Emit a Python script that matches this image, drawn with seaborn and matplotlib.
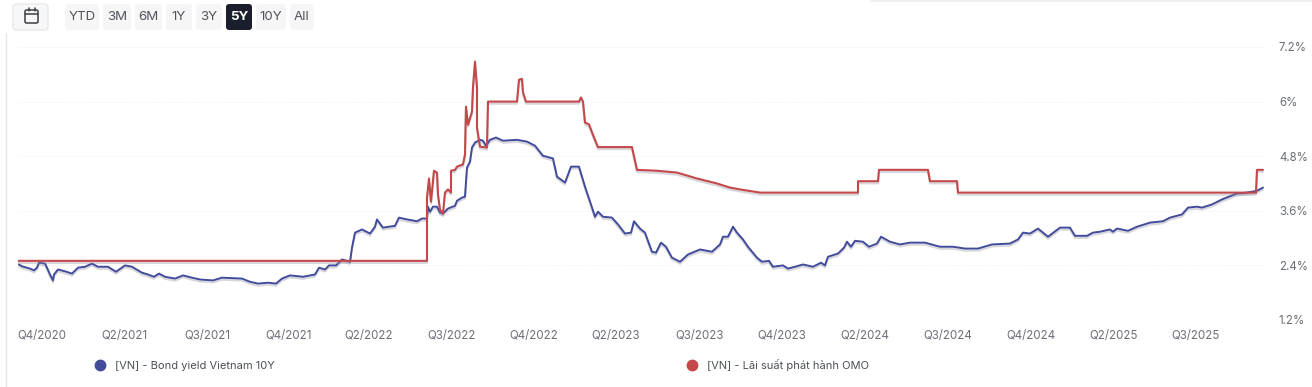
import matplotlib
matplotlib.use('Agg')
import matplotlib.pyplot as plt
import matplotlib.patheffects as pe
from matplotlib.lines import Line2D
from matplotlib.patches import FancyBboxPatch, Rectangle
import pandas as pd
import seaborn as sns

# x is the trading session number, about 250 sessions a year over the 5Y window
bond_session = [1, 4, 9, 12, 16, 19, 21, 27, 29, 32, 35, 36, 40, 47, 54, 60, 67, 74, 80, 90, 98, 107, 114, 124,
                130, 136, 141, 147, 157, 165, 174, 182, 195, 204, 224, 232, 240, 250, 258, 264, 272, 285, 297,
                301, 307, 311, 318, 324, 332, 334, 337, 344, 352, 357, 359, 365, 377, 381, 389, 399, 404, 409,
                410, 412, 415, 419, 422, 425, 430, 437, 439, 444, 447, 449, 452, 454, 457, 462, 465, 468, 472,
                478, 485, 499, 509, 517, 525, 535, 539, 547, 553, 556, 561, 567, 573, 577, 580, 585, 594, 600,
                607, 613, 616, 622, 627, 634, 638, 643, 648, 654, 662, 670, 682, 694, 702, 705, 710, 715, 719,
                725, 730, 739, 744, 751, 755, 765, 770, 777, 785, 795, 803, 807, 810, 820, 826, 829, 833, 837,
                845, 851, 859, 863, 872, 882, 892, 907, 922, 935, 947, 960, 974, 992, 1000, 1005, 1012, 1020,
                1030, 1042, 1052, 1057, 1069, 1075, 1082, 1092, 1095, 1099, 1110, 1119, 1132, 1145, 1152, 1164,
                1170, 1179, 1184, 1194, 1204, 1219, 1229, 1239, 1245]
bond_yield = [2.42, 2.38, 2.35, 2.33, 2.29, 2.35, 2.46, 2.44, 2.35, 2.20, 2.07, 2.20, 2.31, 2.27, 2.22, 2.35, 2.37,
              2.44, 2.37, 2.37, 2.26, 2.40, 2.37, 2.24, 2.20, 2.15, 2.22, 2.15, 2.11, 2.18, 2.13, 2.09, 2.07, 2.13,
              2.11, 2.04, 2.00, 2.02, 2.00, 2.11, 2.18, 2.15, 2.20, 2.35, 2.31, 2.40, 2.40, 2.53, 2.48, 2.79, 3.12,
              3.19, 3.10, 3.25, 3.41, 3.23, 3.27, 3.45, 3.41, 3.37, 3.43, 3.43, 3.69, 3.58, 3.69, 3.69, 3.56, 3.54,
              3.65, 3.71, 3.82, 3.89, 3.91, 4.55, 4.68, 4.99, 5.10, 5.16, 5.14, 5.03, 5.16, 5.21, 5.14, 5.16, 5.12,
              5.03, 4.81, 4.75, 4.35, 4.22, 4.57, 4.57, 4.57, 4.13, 3.74, 3.47, 3.58, 3.47, 3.45, 3.30, 3.10, 3.12,
              3.37, 3.21, 3.12, 2.70, 2.68, 2.90, 2.81, 2.57, 2.48, 2.64, 2.75, 2.70, 2.86, 3.03, 3.03, 3.25, 3.12,
              2.97, 2.81, 2.57, 2.48, 2.50, 2.37, 2.40, 2.33, 2.37, 2.42, 2.37, 2.46, 2.40, 2.59, 2.66, 2.79, 2.92,
              2.81, 2.94, 2.92, 2.81, 2.88, 3.03, 2.92, 2.86, 2.90, 2.90, 2.81, 2.81, 2.77, 2.77, 2.86, 2.88, 2.97,
              3.12, 3.10, 3.21, 3.03, 3.23, 3.23, 3.05, 3.05, 3.12, 3.14, 3.19, 3.14, 3.21, 3.16, 3.25, 3.34, 3.37,
              3.45, 3.52, 3.67, 3.69, 3.67, 3.74, 3.85, 3.98, 4.00, 4.04, 4.11]

omo_session = [0, 409, 409, 411, 413, 416, 419, 420, 422, 425, 427, 430, 433, 433, 437, 439, 445, 447, 448, 450, 454,
               455, 457, 459, 459, 462, 469, 470, 499, 501, 504, 505, 508, 561, 563, 565, 567, 571, 575, 580, 614,
               619, 639, 659, 679, 699, 712, 722, 742, 840, 840, 860, 861, 910, 912, 939, 940, 1238, 1239, 1245]
omo_rate = [2.5, 2.5, 3.89, 4.31, 3.80, 4.48, 4.44, 3.96, 3.63, 3.54, 4.00, 4.07, 4.00, 4.48, 4.50, 4.57, 4.62, 4.84,
            5.89, 5.49, 5.78, 6.31, 6.88, 6.31, 5.43, 5.01, 4.99, 6.0, 6.0, 6.48, 6.5, 6.2, 6.0, 6.0, 6.09, 6.0, 5.54,
            5.5, 5.27, 5.0, 5.0, 4.5, 4.48, 4.44, 4.31, 4.2, 4.11, 4.07, 4.0, 4.0, 4.25, 4.25, 4.5, 4.5, 4.25, 4.25,
            4.0, 4.0, 4.5, 4.5]

x_ticks = [24, 106, 189, 271, 351, 434, 516, 598, 682, 764, 847, 930, 1013, 1096, 1178]
x_labels = ['Q4/2020', 'Q2/2021', 'Q3/2021', 'Q4/2021', 'Q2/2022', 'Q3/2022', 'Q4/2022', 'Q2/2023',
            'Q3/2023', 'Q4/2023', 'Q2/2024', 'Q3/2024', 'Q4/2024', 'Q2/2025', 'Q3/2025']
y_ticks = [1.2, 2.4, 3.6, 4.8, 6, 7.2]
y_labels = ['1.2%', '2.4%', '3.6%', '4.8%', '6%', '7.2%']
range_buttons = ['YTD', '3M', '6M', '1Y', '3Y', '5Y', '10Y', 'All']
active_button = '5Y'
bond_name = '[VN] - Bond yield Vietnam 10Y'
omo_name = '[VN] - Lãi suất phát hành OMO'

BLUE = '#414b9b'
RED = '#c4474a'
W, H = 1312, 387

sns.set_theme(style='white')
plt.rcParams['font.family'] = ['Inter', 'DejaVu Sans']

fig = plt.figure(figsize=(W / 100, H / 100), dpi=100)

# plot area
ax = fig.add_axes([18 / W, 1 - 320 / H, 1247 / W, 273 / H])
shadow = [pe.SimpleLineShadow(offset=(0, -1.5), shadow_color='#8a8a9a', alpha=0.35), pe.Normal()]
bond = pd.DataFrame({'session': bond_session, 'value': bond_yield})
omo = pd.DataFrame({'session': omo_session, 'value': omo_rate})
sns.lineplot(data=bond, x='session', y='value', color=BLUE, lw=1.4, estimator=None, sort=False, ax=ax,
             path_effects=shadow)
sns.lineplot(data=omo, x='session', y='value', color=RED, lw=1.5, estimator=None, sort=False, ax=ax,
             path_effects=shadow)

ax.set_xlim(0, 1247)
ax.set_ylim(1.2, 7.2)
ax.set_xlabel('')
ax.set_ylabel('')
ax.set_xticks(x_ticks, x_labels)
ax.set_yticks(y_ticks, y_labels)
ax.yaxis.tick_right()
ax.tick_params(axis='x', length=0, pad=7, labelsize=8.3, labelcolor='#6b6f76')
ax.tick_params(axis='y', length=0, pad=10, labelsize=8.3, labelcolor='#6b6f76')
ax.grid(axis='y', color='#f1f1f1', lw=0.8, ls=(0, (1, 1.5)))
sns.despine(ax=ax, left=True, bottom=True, right=True, top=True)

handles = [Line2D([], [], ls='', marker='o', ms=7.5, color=BLUE), Line2D([], [], ls='', marker='o', ms=7.5, color=RED)]
leg = ax.legend(handles, [bond_name, omo_name], ncol=2, frameon=False, fontsize=8.0, columnspacing=36.5,
                handletextpad=0.35, loc='center left', bbox_to_anchor=(61 / 1247, -45 / 273),
                labelcolor='#4b4f56')

# toolbar and frame, in pixel coordinates of the figure
ui = fig.add_axes([0, 0, 1, 1], zorder=-1)
ui.set_xlim(0, W)
ui.set_ylim(H, 0)
ui.axis('off')
ui.plot([5.5, 5.5], [33, H], color='#e8e8e8', lw=1)
ui.add_patch(Rectangle((870, 0), W - 870, 1.5, color='#efefef', lw=0))

top = fig.add_axes([0, 0, 1, 1], zorder=5)
top.set_xlim(0, W)
top.set_ylim(H, 0)
top.axis('off')
top.patch.set_alpha(0)


def button(x0, x1, y0, y1, face, edge='none'):
    top.add_patch(FancyBboxPatch((x0 + 2, y0 + 2), x1 - x0 - 4, y1 - y0 - 4, boxstyle='round,pad=2,rounding_size=3',
                                 fc=face, ec=edge, lw=0.8))


button(13, 48, 4, 30, '#f7f7f7', '#e4e4e4')
top.add_patch(FancyBboxPatch((25, 10), 13, 13, boxstyle='round,pad=0,rounding_size=1.5', fc='none', ec='#3c3f46', lw=1.1))
top.plot([25, 38], [13.5, 13.5], color='#3c3f46', lw=1.1)
top.plot([28.5, 28.5], [8, 11], color='#3c3f46', lw=1.1)
top.plot([34.5, 34.5], [8, 11], color='#3c3f46', lw=1.1)

button_spans = [(65, 99), (103, 131), (135, 162), (166, 192), (196, 222), (226, 252), (256, 286), (290, 314)]
for name, (x0, x1) in zip(range_buttons, button_spans):
    on = name == active_button
    button(x0, x1, 4, 30, '#1b1e2c' if on else '#f6f6f6')
    top.text((x0 + x1) / 2, 17, name, ha='center', va='center', fontsize=9.6, color='white' if on else '#50545b',
             fontweight='bold' if on else 'normal')

fig.savefig('out.png', dpi=100, facecolor='white')
